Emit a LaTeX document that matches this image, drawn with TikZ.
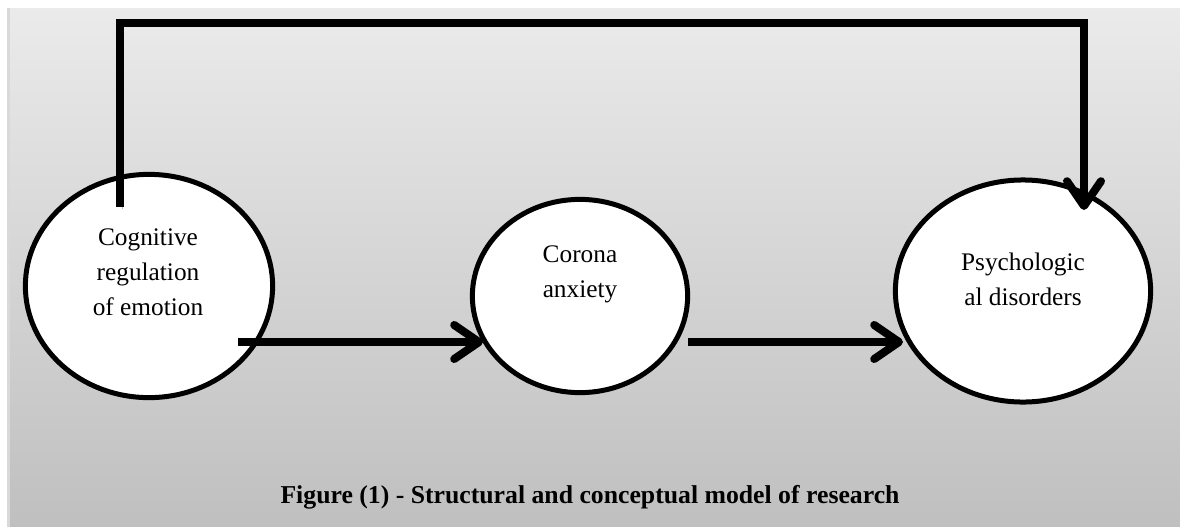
\documentclass[tikz,border=0pt]{standalone}
\usepackage{fontspec}
\setmainfont{Liberation Serif}
\usetikzlibrary{shapes.geometric,arrows.meta}

\begin{document}
\begin{tikzpicture}[x=0.025cm, y=-0.025cm,
  bubble/.style={ellipse, draw, line width=0.125cm, fill=white, inner sep=0pt},
  lbl/.style={align=center, font=\fontsize{18}{25}\selectfont},
  flow/.style={line width=0.2cm, -{Straight Barb[round, length=0.62cm, width=0.85cm]},
    preaction={draw=black!25, transform canvas={shift={(2,2)}}}}]
  % panel
  \useasboundingbox (0,0) rectangle (1180,527);
  \fill[black!15] (7,8) rectangle (1180,527);
  \shade[top color=black!8, bottom color=black!25] (10,8) rectangle (1180,527);

  \node[bubble, minimum width=6.18cm, minimum height=5.58cm] (cre) at (149,286) {};
  \node[bubble, minimum width=5.38cm, minimum height=4.83cm] (ca) at (580,296) {};
  \node[bubble, minimum width=6.38cm, minimum height=5.55cm] (pd) at (1023,291) {};

  \node[lbl] (crelbl) at (148,272) {Cognitive\\regulation\\of emotion};
  \node[lbl] (calbl) at (580,274) {Corona\\anxiety};
  \node[lbl] (pdlbl) at (1023,279) {Psychologic\\al disorders};

  \coordinate (fbs) at (120,207);
  \coordinate (fbe) at (1084,210);
  \coordinate (a1s) at (238,342);
  \coordinate (a1e) at (483,342);
  \coordinate (a2s) at (688,342);
  \coordinate (a2e) at (903,342);

  \draw[flow] (fbs) -- ++(0,-184) -| (fbe);
  \draw[flow] (a1s) -- (a1e);
  \draw[flow] (a2s) -- (a2e);

  \node[font=\fontsize{18.3}{22}\selectfont\bfseries, anchor=base] (cap) at (590,503)
    {Figure (1) - Structural and conceptual model of research};
\end{tikzpicture}
\end{document}
